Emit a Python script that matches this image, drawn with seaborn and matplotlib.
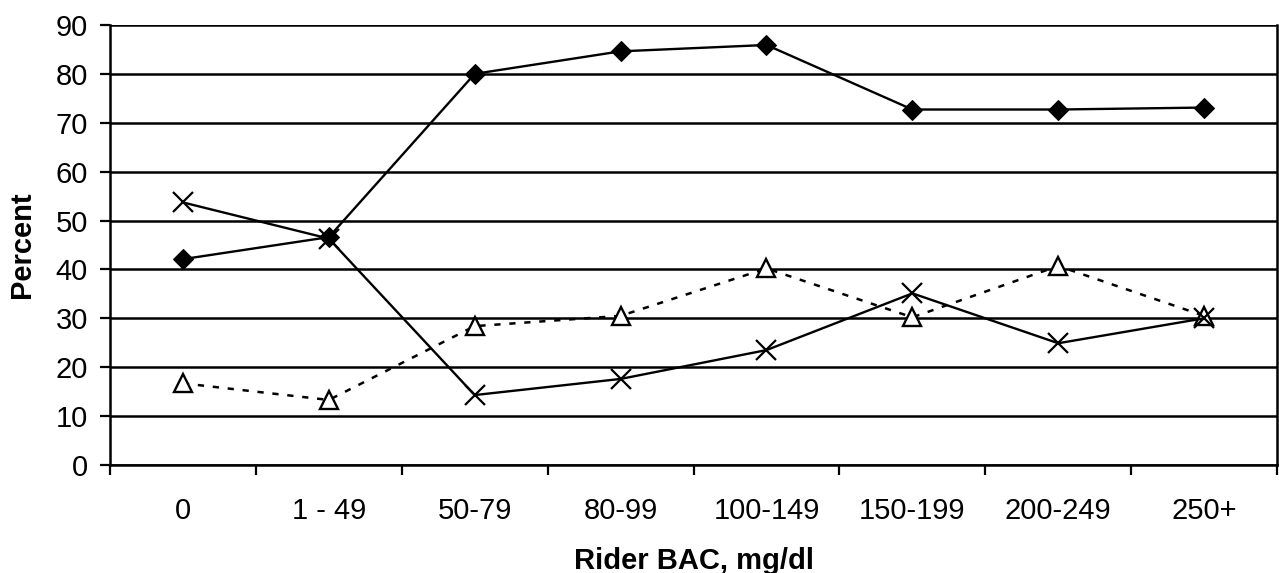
import matplotlib
matplotlib.use("Agg")
import matplotlib.pyplot as plt
import seaborn as sns
import pandas as pd
from matplotlib.ticker import FixedLocator

categories = ["0", "1 - 49", "50-79", "80-99", "100-149", "150-199", "200-249", "250+"]
diamond_values = [42.1, 46.6, 80.0, 84.6, 85.9, 72.7, 72.7, 73.1]
cross_values = [53.7, 46.3, 14.3, 17.6, 23.5, 35.1, 24.9, 30.0]
triangle_values = [16.7, 13.3, 28.4, 30.5, 40.2, 30.2, 40.7, 30.5]
y_ticks = [0, 10, 20, 30, 40, 50, 60, 70, 80, 90]

sns.set_theme(style="white")
plt.rcParams["font.family"] = ["Liberation Sans", "DejaVu Sans"]

fig = plt.figure(figsize=(12.79, 5.73), dpi=100)
ax = fig.add_axes([0.086, 0.1885, 0.9125, 0.768])

df_d = pd.DataFrame({"cat": categories, "val": diamond_values})
df_x = pd.DataFrame({"cat": categories, "val": cross_values})
df_t = pd.DataFrame({"cat": categories, "val": triangle_values})

ax.set_axisbelow(True)
ax.yaxis.grid(True, color="black", linewidth=1.8)

sns.lineplot(data=df_t, x="cat", y="val", ax=ax, color="black", linewidth=1.8,
             dashes=False, sort=False, zorder=3)
tri = ax.lines[-1]
tri.set_dashes((2.5, 3.5))
tri.set_marker("^")
tri.set_markersize(12.5)
tri.set_markerfacecolor("white")
tri.set_markeredgecolor("black")
tri.set_markeredgewidth(1.7)

sns.lineplot(data=df_x, x="cat", y="val", ax=ax, color="black", linewidth=1.7,
             marker="x", markersize=15, markeredgewidth=1.6, markeredgecolor="black",
             sort=False, zorder=4)

sns.lineplot(data=df_d, x="cat", y="val", ax=ax, color="black", linewidth=1.7,
             marker="D", markersize=10, markerfacecolor="black", markeredgecolor="black",
             sort=False, zorder=5)

ax.set_xlim(-0.5, len(categories) - 0.5)
ax.set_ylim(0, 90)
ax.set_yticks(y_ticks)
ax.set_xticks(range(len(categories)))
ax.set_xticklabels(categories)
ax.xaxis.set_minor_locator(FixedLocator([i - 0.5 for i in range(len(categories) + 1)]))

ax.tick_params(axis="x", which="major", length=0, pad=23, labelsize=21, colors="black")
ax.tick_params(axis="x", which="minor", length=7, width=1.6, direction="out", bottom=True, color="black")
ax.tick_params(axis="y", which="major", length=7, width=1.6, direction="out", left=True,
               pad=9, labelsize=21, colors="black")

for side in ["left", "bottom", "right", "top"]:
    ax.spines[side].set_color("black")
    ax.spines[side].set_linewidth(1.8)
ax.spines["top"].set_visible(False)

ax.set_xlabel("Rider BAC, mg/dl", fontsize=21, fontweight="bold", labelpad=16, color="black")
ax.set_ylabel("Percent", fontsize=21, fontweight="bold", labelpad=14, color="black")

fig.savefig("out.png", dpi=100, facecolor="white")
